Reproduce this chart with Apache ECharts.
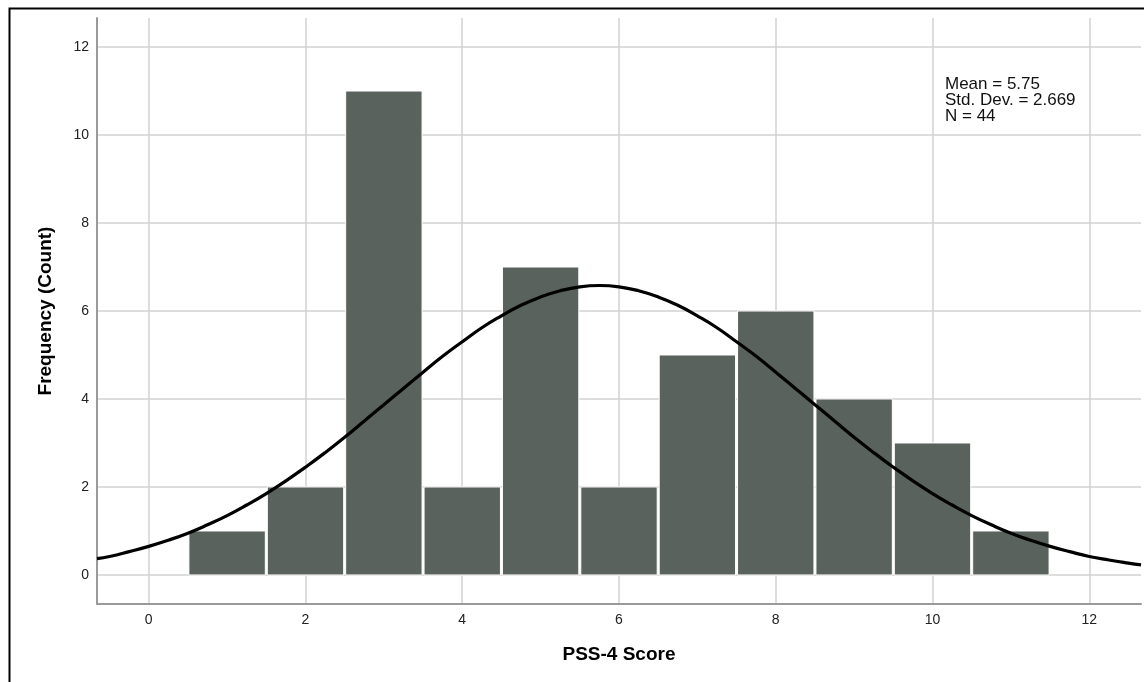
<!DOCTYPE html>
<html>
<head>
<meta charset="utf-8">
<script src="https://cdn.jsdelivr.net/npm/echarts@6/dist/echarts.min.js"></script>
<style>
html,body{margin:0;padding:0;background:#fff;}
#chart{width:1144px;height:682px;}
</style>
</head>
<body>
<div id="chart"></div>
<script>
// Histogram bins (PSS-4 score) and frequencies
const scores = [1, 2, 3, 4, 5, 6, 7, 8, 9, 10, 11];
const counts = [1, 2, 11, 2, 7, 2, 5, 6, 4, 3, 1];
// Normal curve heights
const curveX = [-0.66, -0.5, -0.25, 0, 0.25, 0.5, 0.75, 1, 1.25, 1.5, 1.75, 2, 2.25, 2.5, 2.75, 3, 3.25, 3.5, 3.75, 4, 4.25, 4.5, 4.75, 5, 5.25, 5.5, 5.75,
                6, 6.25, 6.5, 6.75, 7, 7.25, 7.5, 7.75, 8, 8.25, 8.5, 8.75, 9, 9.25, 9.5, 9.75, 10, 10.25, 10.5, 10.75, 11, 11.25, 11.5, 11.75, 12, 12.25, 12.5, 12.66];
const curveY = [0.37, 0.42, 0.53, 0.65, 0.79, 0.95, 1.14, 1.35, 1.59, 1.85, 2.14, 2.45, 2.78, 3.13, 3.5, 3.87, 4.24, 4.61, 4.97, 5.3, 5.62, 5.89, 6.13, 6.32, 6.46, 6.55, 6.58,
                6.55, 6.46, 6.32, 6.13, 5.89, 5.62, 5.3, 4.97, 4.61, 4.24, 3.87, 3.5, 3.13, 2.78, 2.45, 2.14, 1.85, 1.59, 1.35, 1.14, 0.95, 0.79, 0.65, 0.53, 0.42, 0.34, 0.27, 0.23];
const xTicks = [0, 2, 4, 6, 8, 10, 12];
const yTicks = [0, 2, 4, 6, 8, 10, 12];
const statsLines = ['Mean = 5.75', 'Std. Dev. = 2.669', 'N = 44'];

const chart = echarts.init(document.getElementById('chart'), null, {renderer: 'canvas'});
const FONT = 'Liberation Sans, Arial, sans-serif';

const option = {
  backgroundColor: '#ffffff',
  animation: false,
  grid: {left: 97, top: 18, right: 3, bottom: 78, containLabel: false},
  xAxis: {
    type: 'value', min: -0.66, max: 12.66, splitNumber: 7,
    name: 'PSS-4 Score', nameLocation: 'middle', nameGap: 41,
    nameTextStyle: {fontFamily: FONT, fontWeight: 'bold', fontSize: 19, color: '#000'},
    axisLine: {show: true, onZero: false, lineStyle: {color: '#9a9a9a', width: 2}},
    axisTick: {show: false, customValues: xTicks},
    axisLabel: {fontFamily: FONT, fontSize: 14, color: '#222', margin: 9, customValues: xTicks},
    splitLine: {show: true, lineStyle: {color: '#d2d2d2', width: 1.5}}
  },
  yAxis: {
    type: 'value', min: -0.66, max: 12.66, splitNumber: 7,
    name: 'Frequency (Count)', nameLocation: 'middle', nameGap: 42, nameRotate: 90,
    nameTextStyle: {fontFamily: FONT, fontWeight: 'bold', fontSize: 19, color: '#000'},
    axisLine: {show: true, onZero: false, lineStyle: {color: '#9a9a9a', width: 2}},
    axisTick: {show: false, customValues: yTicks},
    axisLabel: {fontFamily: FONT, fontSize: 14, color: '#222', margin: 8, customValues: yTicks},
    splitLine: {show: true, lineStyle: {color: '#d2d2d2', width: 1.5}}
  },
  series: [
    {
      type: 'custom',
      data: scores.map((s, i) => [s, counts[i]]),
      renderItem: function (params, api) {
        const x = api.value(0), y = api.value(1);
        const p0 = api.coord([x - 0.5, 0]);
        const p1 = api.coord([x + 0.5, y]);
        return {
          type: 'rect',
          shape: {x: p0[0] + 1, y: p1[1], width: p1[0] - p0[0] - 2, height: p0[1] - p1[1]},
          style: {fill: '#59625c', stroke: '#ffffff', lineWidth: 1}
        };
      },
      z: 2
    },
    {
      type: 'line',
      data: curveX.map((x, i) => [x, curveY[i]]),
      smooth: true,
      symbol: 'none',
      lineStyle: {color: '#000', width: 3.2, cap: 'butt'},
      z: 3
    }
  ],
  graphic: [
    {type: 'rect', left: 7, top: 6, shape: {x: 0, y: 0, width: 1150, height: 700},
     style: {fill: null, stroke: '#000', lineWidth: 2}, silent: true, z: 100},
    {type: 'text', left: 945, top: 76, z: 100,
     style: {text: statsLines.join('\n'), font: '17px ' + FONT, fill: '#111', lineHeight: 16}}
  ]
};
chart.setOption(option);
</script>
</body>
</html>
